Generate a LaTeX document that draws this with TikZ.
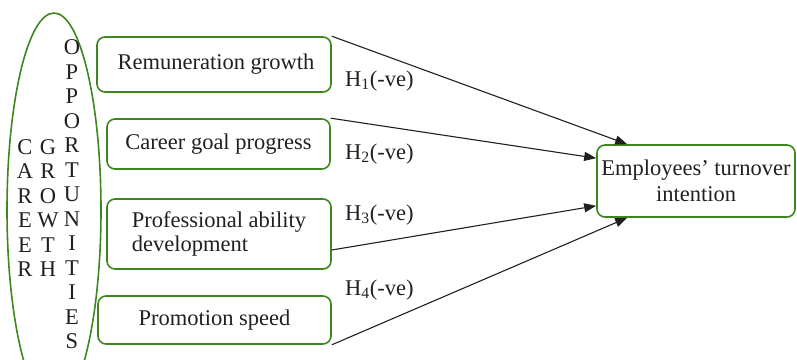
\documentclass[tikz,border=0pt]{standalone}
\usepackage{fontspec}
\setmainfont{Liberation Serif}
\usetikzlibrary{arrows.meta,shapes.geometric,calc}
\definecolor{grn}{RGB}{62,135,30}
\definecolor{txt}{RGB}{35,31,32}
\begin{document}
\begin{tikzpicture}[x=1pt,y=-1pt,
  every node/.style={font=\fontsize{22.5}{24}\selectfont, text=txt},
  gbox/.style={draw=grn, line width=1.6pt, rounded corners=8pt, inner sep=0pt},
  letters/.style={align=center, inner sep=0pt, font=\fontsize{22.5}{24.5}\selectfont},
  hyp/.style={anchor=west, inner sep=0pt},
  arr/.style={draw=txt, line width=1.1pt, -{Triangle[length=12pt,width=9pt]}}]
\useasboundingbox (0,0) rectangle (797,359);
\node[draw=grn, line width=1.6pt, ellipse, minimum width=94, minimum height=394, inner sep=0pt] (ell) at (54,210) {};
\node[letters] (c1) at (25,208) {C\\A\\R\\E\\E\\R};
\node[letters] (c2) at (48,208) {G\\R\\O\\W\\T\\H};
\node[letters] (c3) at (72,194.5) {O\\P\\P\\O\\R\\T\\U\\N\\I\\T\\I\\E\\S};
\node[gbox, minimum width=234, minimum height=55] (b1) at (214,64.5) {\hspace{4pt}Remuneration growth};
\node[gbox, minimum width=223, minimum height=50] (b2) at (218.5,144) {Career goal progress};
\node[gbox, minimum width=224, minimum height=70, align=left] (b3) at (219,234) {Professional ability\\development};
\node[gbox, minimum width=198, minimum height=72, align=center, font=\fontsize{22.5}{25.5}\selectfont] (t) at (696,181) {Employees’ turnover\\intention};
\node[gbox, minimum width=233, minimum height=48] (b4) at (214.5,320) {Promotion speed};
\coordinate (t1) at ($(t.north west)+(31,0)$);
\coordinate (t2) at ($(t.north west)+(0,14)$);
\coordinate (t3) at ($(t.south west)+(0,-12)$);
\coordinate (t4) at ($(t.south west)+(31,0)$);
\coordinate (s3) at ($(b3.east)+(0,16)$);
\draw[arr] (b1.north east) -- (t1);
\draw[arr] (b2.north east) -- (t2);
\draw[arr] (s3) -- (t3);
\draw[arr] (b4.south east) -- (t4);
\node[hyp] (h1) at (345,81) {H\textsubscript{1}(-ve)};
\node[hyp] (h2) at (345,154) {H\textsubscript{2}(-ve)};
\node[hyp] (h3) at (345,215) {H\textsubscript{3}(-ve)};
\node[hyp] (h4) at (345,290) {H\textsubscript{4}(-ve)};
\end{tikzpicture}
\end{document}
